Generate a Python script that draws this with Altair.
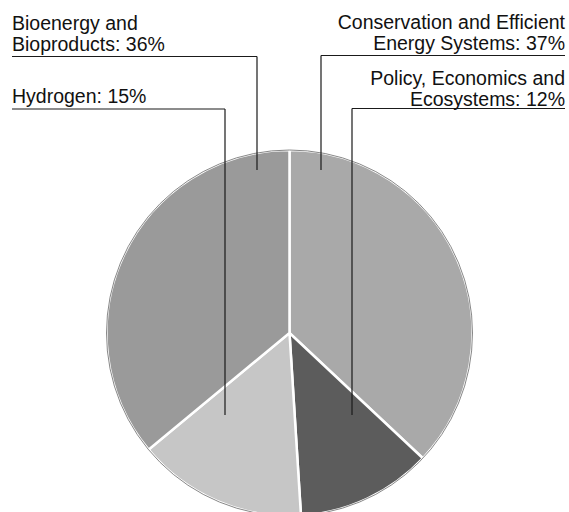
import altair as alt
import pandas as pd

# ---- data ----
categories = [
    "Conservation and Efficient Energy Systems",
    "Policy, Economics and Ecosystems",
    "Hydrogen",
    "Bioenergy and Bioproducts",
]
shares = [37, 12, 15, 36]
label_text = [
    "Conservation and Efficient\nEnergy Systems: 37%",
    "Policy, Economics and\nEcosystems: 12%",
    "Hydrogen: 15%",
    "Bioenergy and\nBioproducts: 36%",
]

# ---- styles / layout ----
fills = ["#a9a9a9", "#5c5c5c", "#c6c6c6", "#9a9a9a"]
cx, cy, R = 289.5, 333, 183
# text anchor (x, first baseline y, align)
text_x = [565, 565, 12, 12]
text_y = [29, 85, 103, 30]
text_align = ["right", "right", "left", "left"]
# leader: underline y, underline from x to x, vertical x, vertical end y
ul_y = [55.5, 108.5, 109, 56.5]
ul_x1 = [321, 352, 12, 12]
ul_x2 = [565, 565, 225, 257]
v_x = [321, 352, 225, 257]
v_end = [170, 415, 415, 170]

pie_df = pd.DataFrame({"cat": categories, "share": shares, "ord": list(range(len(categories)))})

pie = alt.Chart(pie_df).mark_arc(
    outerRadius=R, stroke="white", strokeWidth=2.5
).encode(
    theta=alt.Theta("share:Q", stack=True),
    order=alt.Order("ord:Q"),
    color=alt.Color("cat:N", scale=alt.Scale(domain=categories, range=fills), legend=None),
    x=alt.value(cx),
    y=alt.value(cy),
)

outline = alt.Chart(pd.DataFrame({"whole": [sum(shares)]})).mark_arc(
    outerRadius=R, fillOpacity=0, stroke="#6a6a6a", strokeWidth=0.8
).encode(
    theta=alt.Theta("whole:Q"),
    x=alt.value(cx),
    y=alt.value(cy),
)

lab_df = pd.DataFrame({"t": label_text, "x": text_x, "y": text_y, "al": text_align})

def text_layer(align):
    d = lab_df[lab_df["al"] == align]
    return alt.Chart(d).mark_text(
        align=align, baseline="alphabetic", font="Liberation Sans", fontSize=19.5,
        lineBreak="\n", lineHeight=21, color="#111"
    ).encode(
        x=alt.X("x:Q", scale=None),
        y=alt.Y("y:Q", scale=None),
        text="t:N",
    )

seg_df = pd.DataFrame({
    "x1": ul_x1 + v_x,
    "x2": ul_x2 + v_x,
    "y1": ul_y + ul_y,
    "y2": ul_y + v_end,
})

rules = alt.Chart(seg_df).mark_rule(color="#1a1a1a", strokeWidth=1.2).encode(
    x=alt.X("x1:Q", scale=None),
    x2="x2:Q",
    y=alt.Y("y1:Q", scale=None),
    y2="y2:Q",
)

chart = alt.layer(pie, outline, rules, text_layer("left"), text_layer("right")).properties(
    width=569, height=512, padding=0, autosize=alt.AutoSizeParams(type="none"),
    background="white",
).configure_view(stroke=None)

chart.save("out.html", embed_options={"renderer": "svg", "actions": False})
